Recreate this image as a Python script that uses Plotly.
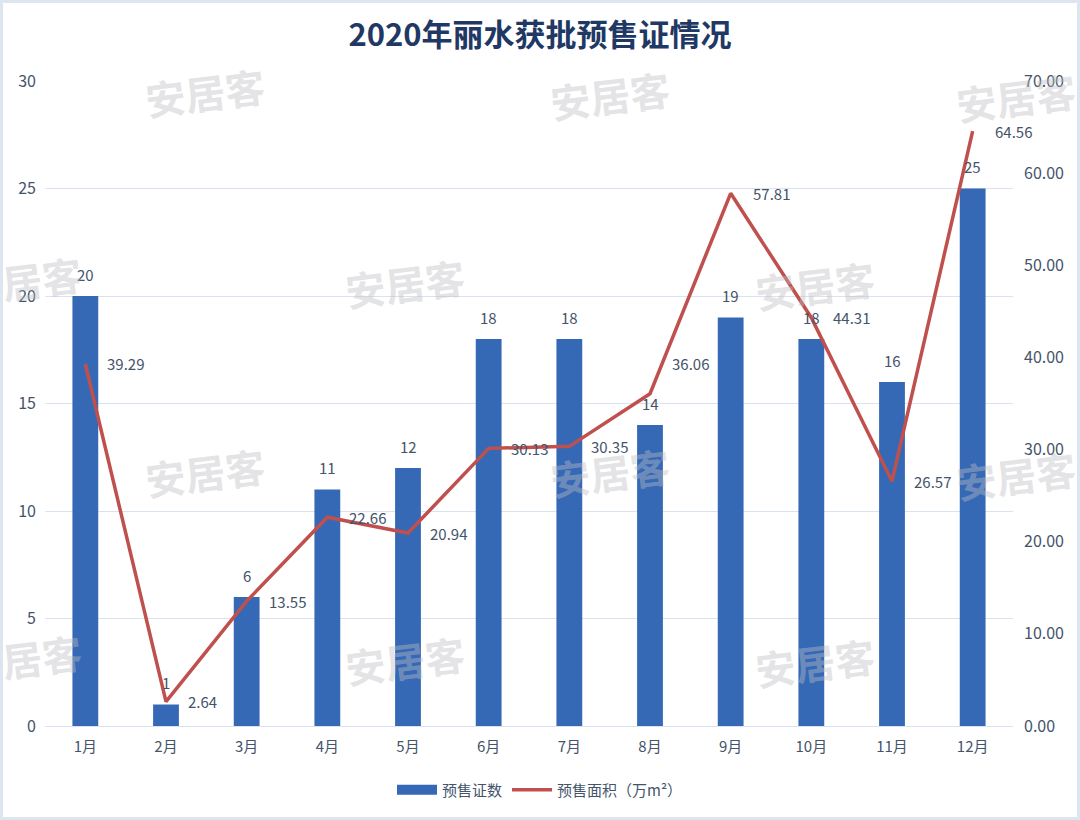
import plotly.graph_objects as go

months = ["1月", "2月", "3月", "4月", "5月", "6月", "7月", "8月", "9月", "10月", "11月", "12月"]
permits = [20, 1, 6, 11, 12, 18, 18, 14, 19, 18, 16, 25]
area = [39.29, 2.64, 13.55, 22.66, 20.94, 30.13, 30.35, 36.06, 57.81, 44.31, 26.57, 64.56]
left_ticks = [0, 5, 10, 15, 20, 25, 30]
right_ticks = [0, 10, 20, 30, 40, 50, 60, 70]

W, H = 1080, 820
ML, MR, MT, MB = 45, 67, 81, 94
PW, PH = W - ML - MR, H - MT - MB

label_color = "#44546a"
bar_color = "#3569b6"
line_color = "#c0504d"
font_family = "Noto Sans CJK SC, Noto Sans, sans-serif"

fig = go.Figure()
fig.add_trace(go.Bar(
    x=months, y=permits, name="预售证数", showlegend=False,
    marker=dict(color=bar_color, line=dict(width=0)),
    yaxis="y",
))
# legend-only entry so the bar key appears as a wide rectangle
fig.add_trace(go.Scatter(
    x=[months[0]], y=[None], name="预售证数", mode="lines",
    line=dict(color=bar_color, width=11), yaxis="y", legendrank=1,
))
fig.add_trace(go.Scatter(
    x=months, y=area, name="预售面积（万m²）", mode="lines",
    line=dict(color=line_color, width=3.5), yaxis="y2", legendrank=2,
))

annotations = []
# bar data labels
for m, v in zip(months, permits):
    annotations.append(dict(
        x=m, y=v, xref="x", yref="y", text=str(v), showarrow=False,
        xanchor="center", yanchor="middle", yshift=22,
        font=dict(size=15, color=label_color, family=font_family),
    ))

# line data labels (offsets are layout only)
xshift = [20] * len(months)
yshift = [0] * len(months)
yshift[7] = 30
for i, (m, v) in enumerate(zip(months, area)):
    annotations.append(dict(
        x=m, y=v, xref="x", yref="y2", text=f"{v:.2f}", showarrow=False,
        xanchor="left", yanchor="middle", xshift=xshift[i], yshift=yshift[i],
        font=dict(size=15, color=label_color, family=font_family),
    ))

# watermarks (pixel centre, visible text)
wm = [(205, 92, "安居客"), (610, 95, "安居客"), (1016, 97, "安居客"),
      (42, 278, "居客"), (405, 283, "安居客"), (815, 285, "安居客"),
      (205, 472, "安居客"), (610, 472, "安居客"), (1016, 475, "安居客"),
      (42, 656, "居客"), (405, 660, "安居客"), (815, 662, "安居客")]
for px, py, t in wm:
    annotations.append(dict(
        x=(px - ML) / PW, y=(H - MB - py) / PH, xref="paper", yref="paper",
        text=f"<b>{t}</b>", showarrow=False, textangle=-7,
        font=dict(size=40, color="rgba(190,190,195,0.42)", family=font_family),
        xanchor="center", yanchor="middle",
    ))

fig.update_layout(
    width=W, height=H,
    margin=dict(l=ML, r=MR, t=MT, b=MB, autoexpand=False),
    paper_bgcolor="white", plot_bgcolor="white",
    font=dict(family=font_family, color=label_color),
    title=dict(text="<b>2020年丽水获批预售证情况</b>", x=0.5, xref="container",
               y=1 - 35 / H, yref="container", yanchor="middle",
               font=dict(size=31, color="#1f3864", family=font_family)),
    bargap=0.68,
    xaxis=dict(range=[-0.5, len(months) - 0.5], showgrid=False, showline=False,
               ticks="", ticklabelstandoff=10, automargin=False,
               tickfont=dict(size=15, color=label_color)),
    yaxis=dict(range=[0, 30], tickvals=left_ticks, showgrid=True, gridcolor="#d9e3ef",
               gridwidth=1.2, zeroline=True, zerolinecolor="#d9e3ef", zerolinewidth=1.2,
               showline=False, ticks="", ticklabelstandoff=8, automargin=False,
               tickfont=dict(size=16, color=label_color)),
    yaxis2=dict(range=[0, 70], tickvals=right_ticks, tickformat=".2f", overlaying="y",
                side="right", showgrid=False, zeroline=False, showline=False, ticks="",
                ticklabelstandoff=10, automargin=False,
                tickfont=dict(size=16, color=label_color)),
    legend=dict(orientation="h", x=0.5, xref="container", xanchor="center",
                y=1 - 790 / H, yref="container", yanchor="middle",
                font=dict(size=15, color=label_color), itemwidth=40,
                traceorder="normal"),
    annotations=annotations,
    shapes=[dict(type="rect", xref="paper", yref="paper",
                 x0=-(ML - 1.5) / PW, x1=1 + (MR - 1.5) / PW,
                 y0=-(MB - 1.5) / PH, y1=1 + (MT - 1.5) / PH,
                 line=dict(color="#dce6f0", width=3), layer="below")],
)

fig.write_html(
    "out.html",
    config={"displayModeBar": False},
    post_script="document.body.style.margin='0';document.body.style.padding='0';"
                "document.body.style.overflow='hidden';",
)
